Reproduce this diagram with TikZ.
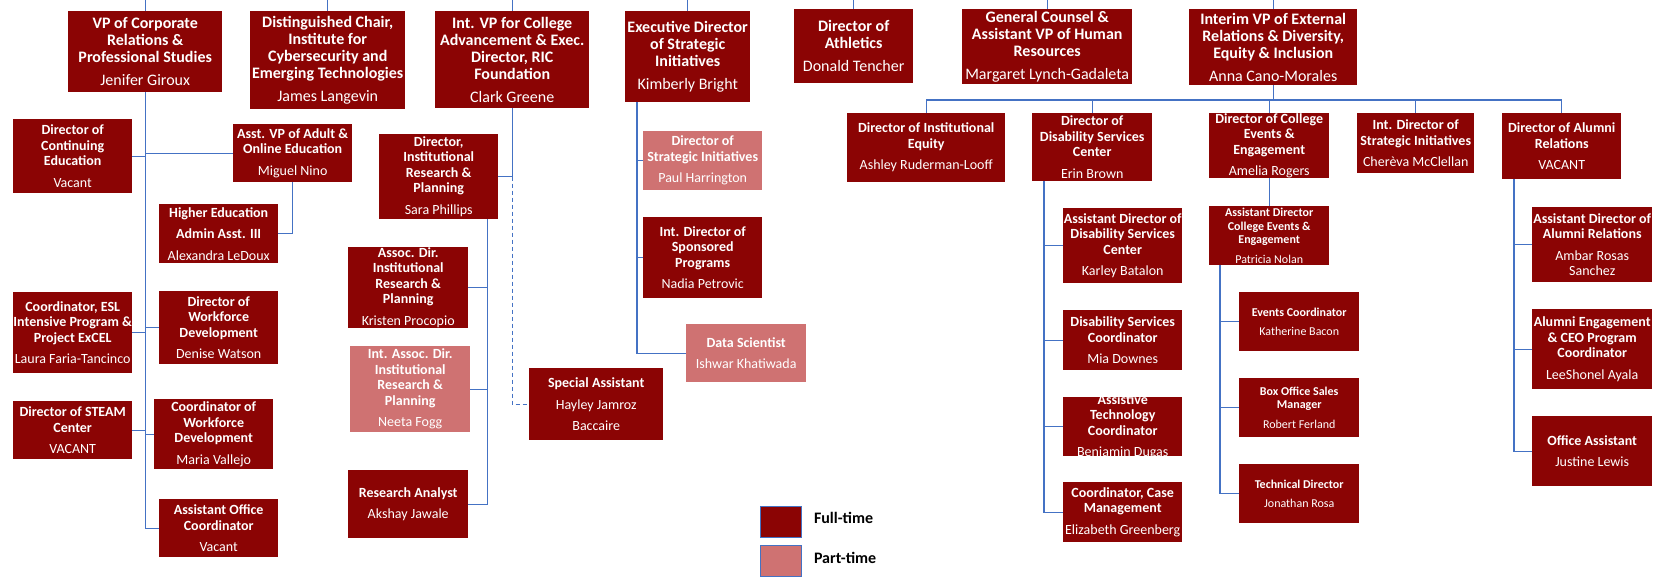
\documentclass[tikz,border=0pt]{standalone}
\usepackage{fontspec}
\setmainfont{Carlito}
\usetikzlibrary{positioning}
\definecolor{ftred}{RGB}{139,4,4}
\definecolor{ptred}{RGB}{207,114,114}
\definecolor{linkblue}{RGB}{68,114,196}
\newcommand{\who}{\\[6pt]\mdseries}
\tikzset{
  post/.style={fill=ftred, text=white, align=center, inner sep=-6pt, anchor=north west},
  fulltime/.style={post},
  parttime/.style={post, fill=ptred},
  boxsize/.style 2 args={minimum width=#1pt, minimum height=#2pt},
  toprow/.style={font=\fontsize{16}{17}\selectfont\bfseries},
  mid/.style={font=\fontsize{14}{15.5}\selectfont\bfseries},
  small/.style={font=\fontsize{12}{13.5}\selectfont\bfseries},
  keytext/.style={font=\fontsize{16}{18}\selectfont\bfseries, text=black, inner sep=0pt},
  link/.style={draw=linkblue, line width=1.1pt},
}
\begin{document}
\begin{tikzpicture}[x=1pt, y=-1pt]
    \useasboundingbox (0,0) rectangle (1665,577);
    \coordinate (top) at (0,0);
    \coordinate (bus) at (0,100);

    % top row
    \node[fulltime, toprow, boxsize={154}{81}] (corp) at (68,11) {VP of Corporate\\Relations \&\\Professional Studies\who Jenifer Giroux};
    \node[fulltime, toprow, boxsize={155}{98}] (chair) at (250,11) {Distinguished Chair,\\Institute for\\Cybersecurity and\\Emerging Technologies\who James Langevin};
    \node[fulltime, toprow, boxsize={154}{97}] (adv) at (435,11) {Int. VP for College\\Advancement \& Exec.\\Director, RIC\\Foundation\who Clark Greene};
    \node[fulltime, toprow, boxsize={125}{91}] (exec) at (625,11) {Executive Director\\of Strategic\\Initiatives\who Kimberly Bright};
    \node[fulltime, toprow, boxsize={119}{74}] (ath) at (794,9) {Director of\\Athletics\who Donald Tencher};
    \node[fulltime, toprow, boxsize={170}{75}] (gc) at (962,9) {General Counsel \&\\Assistant VP of Human\\Resources\who Margaret Lynch-Gadaleta};
    \node[fulltime, toprow, boxsize={168}{76}] (ext) at (1189,9) {Interim VP of External\\Relations \& Diversity,\\Equity \& Inclusion\who Anna Cano-Morales};

    % corporate relations
    \node[fulltime, mid, boxsize={119}{74}] (conted) at (13,119) {Director of\\Continuing\\Education\who Vacant};
    \node[fulltime, mid, boxsize={119}{58}] (avp) at (233,124) {Asst. VP of Adult \&\\Online Education\who Miguel Nino};
    \node[fulltime, mid, boxsize={119}{59}] (heaa) at (159,204) {Higher Education\\[6pt]Admin Asst. III\who Alexandra LeDoux};
    \node[fulltime, mid, boxsize={119}{81}] (esl) at (13,292) {Coordinator, ESL\\Intensive Program \&\\Project ExCEL\who Laura Faria-Tancinco};
    \node[fulltime, mid, boxsize={119}{73}] (wfdir) at (159,291) {Director of\\Workforce\\Development\who Denise Watson};
    \node[fulltime, mid, boxsize={119}{58}] (steam) at (13,401) {Director of STEAM\\Center\who VACANT};
    \node[fulltime, mid, boxsize={119}{70}] (wfcoord) at (154,399) {Coordinator of\\Workforce\\Development\who Maria Vallejo};
    \node[fulltime, mid, boxsize={119}{58}] (aoc) at (159,499) {Assistant Office\\Coordinator\who Vacant};

    % college advancement
    \node[fulltime, mid, boxsize={119}{85}] (irp) at (379,134) {Director,\\Institutional\\Research \&\\Planning\who Sara Phillips};
    \node[fulltime, mid, boxsize={120}{81}] (aird) at (348,247) {Assoc. Dir.\\Institutional\\Research \&\\Planning\who Kristen Procopio};
    \node[parttime, mid, boxsize={120}{86}] (iaird) at (350,346) {Int. Assoc. Dir.\\Institutional\\Research \&\\Planning\who Neeta Fogg};
    \node[fulltime, mid, boxsize={120}{68}] (ra) at (348,470) {Research Analyst\who Akshay Jawale};
    \node[fulltime, mid, boxsize={134}{72}] (spa) at (529,368) {Special Assistant\who Hayley Jamroz\who Baccaire};

    % strategic initiatives
    \node[parttime, mid, boxsize={119}{59}] (dsi) at (643,131) {Director of\\Strategic Initiatives\who Paul Harrington};
    \node[fulltime, mid, boxsize={119}{81}] (isp) at (643,217) {Int. Director of\\Sponsored\\Programs\who Nadia Petrovic};
    \node[parttime, mid, boxsize={120}{58}] (ds) at (686,324) {Data Scientist\who Ishwar Khatiwada};

    % external relations
    \node[fulltime, mid, boxsize={158}{69}] (ie) at (847,113) {Director of Institutional\\Equity\who Ashley Ruderman-Looff};
    \node[fulltime, mid, boxsize={120}{68}] (dsc) at (1032,113) {Director of\\Disability Services\\Center\who Erin Brown};
    \node[fulltime, mid, boxsize={120}{65}] (ce) at (1209,113) {Director of College\\Events \&\\Engagement\who Amelia Rogers};
    \node[fulltime, mid, boxsize={117}{60}] (isi) at (1357,113) {Int. Director of\\Strategic Initiatives\who Cherèva McClellan};
    \node[fulltime, mid, boxsize={119}{66}] (alr) at (1502,113) {Director of Alumni\\Relations\who VACANT};

    \node[fulltime, mid, boxsize={119}{75}] (adds) at (1063,208) {Assistant Director of\\Disability Services\\Center\who Karley Batalon};
    \node[fulltime, mid, boxsize={119}{60}] (dscoord) at (1063,310) {Disability Services\\Coordinator\who Mia Downes};
    \node[fulltime, mid, boxsize={119}{59}] (atc) at (1063,397) {Assistive\\Technology\\Coordinator\who Benjamin Dugas};
    \node[fulltime, mid, boxsize={119}{60}] (ccm) at (1063,482) {Coordinator, Case\\Management\who Elizabeth Greenberg};

    \node[fulltime, small, boxsize={120}{59}] (acee) at (1209,206) {Assistant Director\\College Events \&\\Engagement\who Patricia Nolan};
    \node[fulltime, small, boxsize={120}{59}] (evc) at (1239,292) {Events Coordinator\who Katherine Bacon};
    \node[fulltime, small, boxsize={120}{59}] (bosm) at (1239,378) {Box Office Sales\\Manager\who Robert Ferland};
    \node[fulltime, small, boxsize={120}{59}] (td) at (1239,464) {Technical Director\who Jonathan Rosa};

    \node[fulltime, mid, boxsize={120}{75}] (adar) at (1532,207) {Assistant Director of\\Alumni Relations\who Ambar Rosas\\\mdseries Sanchez};
    \node[fulltime, mid, boxsize={120}{80}] (aec) at (1532,309) {Alumni Engagement\\\& CEO Program\\Coordinator\who LeeShonel Ayala};
    \node[fulltime, mid, boxsize={120}{70}] (oa) at (1532,416) {Office Assistant\who Justine Lewis};

    % legend
    \node[fulltime, draw=linkblue, line width=0.8pt, boxsize={41}{31}] (ftkey) at (760,506) {};
    \node[parttime, draw=linkblue, line width=0.8pt, boxsize={41}{31}] (ptkey) at (760,545) {};
    \node[keytext, right=12pt of ftkey, yshift=4pt] (ftlabel) {Full-time};
    \node[keytext, right=12pt of ptkey, yshift=3pt] (ptlabel) {Part-time};

    % lines up to the top
    \draw[link] (corp.north) -- (corp.north |- top);
    \draw[link] (chair.north) -- (chair.north |- top);
    \draw[link] (adv.north) -- (adv.north |- top);
    \draw[link] (exec.north) -- (exec.north |- top);
    \draw[link] (ath.north) -- (ath.north |- top);
    \draw[link] (gc.north) -- (gc.north |- top);
    \draw[link] (ext.north) -- (ext.north |- top);

    % corporate relations lines
    \draw[link] (corp.south) |- (aoc.west);
    \draw[link] (conted.east) -- (conted.east -| corp.south);
    \draw[link] (avp.west) -- (avp.west -| corp.south);
    \draw[link] (esl.east) -- (esl.east -| corp.south);
    \draw[link] (wfdir.west) -- (wfdir.west -| corp.south);
    \draw[link] (steam.east) -- (steam.east -| corp.south);
    \draw[link] (wfcoord.west) -- (wfcoord.west -| corp.south);
    \draw[link] (avp.south) |- (heaa.east);

    % college advancement lines
    \draw[link] (adv.south) |- (irp.east);
    \draw[link, dash pattern=on 4pt off 3pt] (adv.south |- irp.east) |- (spa.west);
    \coordinate (irptr) at ([xshift=-11pt]irp.south east);
    \draw[link] (irptr) |- (ra.east);
    \draw[link] (aird.east) -- (aird.east -| irptr);
    \draw[link] (iaird.east) -- (iaird.east -| irptr);

    % strategic initiatives lines
    \coordinate (exectr) at ([xshift=12pt]exec.south west);
    \draw[link] (exectr) |- (ds.west);
    \draw[link] (dsi.west) -- (dsi.west -| exectr);
    \draw[link] (isp.west) -- (isp.west -| exectr);

    % external relations lines
    \draw[link] (ext.south) -- (ext.south |- bus);
    \draw[link] (ie.north) |- (alr.north |- bus) -- (alr.north);
    \draw[link] (dsc.north) -- (dsc.north |- bus);
    \draw[link] (ce.north) -- (ce.north |- bus);
    \draw[link] (isi.north) -- (isi.north |- bus);

    \coordinate (dsctr) at ([xshift=12pt]dsc.south west);
    \draw[link] (dsctr) |- (ccm.west);
    \draw[link] (adds.west) -- (adds.west -| dsctr);
    \draw[link] (dscoord.west) -- (dscoord.west -| dsctr);
    \draw[link] (atc.west) -- (atc.west -| dsctr);

    \draw[link] (ce.south) -- (acee.north);
    \coordinate (aceetr) at ([xshift=11pt]acee.south west);
    \draw[link] (aceetr) |- (td.west);
    \draw[link] (evc.west) -- (evc.west -| aceetr);
    \draw[link] (bosm.west) -- (bosm.west -| aceetr);

    \coordinate (alrtr) at ([xshift=12pt]alr.south west);
    \draw[link] (alrtr) |- (oa.west);
    \draw[link] (adar.west) -- (adar.west -| alrtr);
    \draw[link] (aec.west) -- (aec.west -| alrtr);
\end{tikzpicture}
\end{document}
